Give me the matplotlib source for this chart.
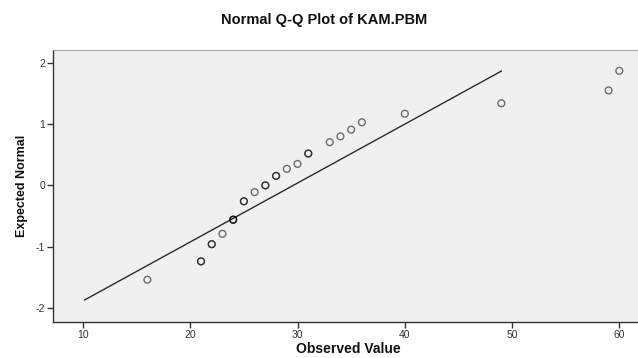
import numpy as np
import matplotlib
matplotlib.use('Agg')
import matplotlib.pyplot as plt

# observed values, expected normal scores and how many cases share each value
observed = [16, 21, 22, 23, 24, 25, 26, 27, 28, 29, 30, 31, 33, 34, 35, 36, 40, 49, 59, 60]
expected = [-1.54, -1.24, -0.96, -0.79, -0.56, -0.26, -0.11, 0.00, 0.155, 0.27,
            0.35, 0.52, 0.705, 0.80, 0.91, 1.03, 1.17, 1.34, 1.55, 1.87]
counts = [1, 2, 2, 1, 3, 2, 1, 2, 2, 1, 1, 2, 1, 1, 1, 1, 1, 1, 1, 1]

# reference line y = (x - mean) / sd
line_mean = 29.6
line_sd = 10.4
line_x = [10.15, 49.0]

xticks = [10, 20, 30, 40, 50, 60]
yticks = [-2, -1, 0, 1, 2]

plt.rcParams['font.family'] = ['Liberation Sans', 'DejaVu Sans']
plt.rcParams['axes.unicode_minus'] = False

fig = plt.figure(figsize=(6.38, 3.58), dpi=100)
ax = fig.add_axes([53.3/638, 1 - 322/358, 1 - 53.3/638, 272/358])
ax.set_facecolor('#f0f0f0')

lx = np.array(line_x)
ax.plot(lx, (lx - line_mean)/line_sd, color='#2a2a2a', lw=1.0, zorder=2)

# ties drawn on top of each other so they come out darker, like in SPSS
xs = np.repeat(observed, counts)
ys = np.repeat(expected, counts)
ax.scatter(xs, ys, s=24, facecolors='none', edgecolors=(0, 0, 0, 0.55), linewidths=1.0, zorder=3)

ax.set_xlim(7.23, 61.74)
ax.set_ylim(-2.23, 2.21)
ax.set_xticks(xticks)
ax.set_yticks(yticks)

for side in ['left', 'bottom']:
    ax.spines[side].set_color('#333333')
    ax.spines[side].set_linewidth(1.0)
ax.spines['top'].set_color('#a8a8a8')
ax.spines['right'].set_visible(False)
ax.tick_params(direction='out', length=4, width=1, color='#333333',
               labelsize=7.5, labelcolor='#333333', pad=2)

fig.text(324/638, 1 - 20/358, 'Normal Q-Q Plot of KAM.PBM', ha='center', va='center',
         fontsize=10.5, fontweight='bold', color='#111111')
fig.text(348/638, 1 - 349/358, 'Observed Value', ha='center', va='center',
         fontsize=10, fontweight='bold', color='#111111')
fig.text(22/638, 1 - 186/358, 'Expected Normal', ha='center', va='center', rotation=90,
         fontsize=9, fontweight='bold', color='#111111')

fig.savefig('out.png', dpi=100)
